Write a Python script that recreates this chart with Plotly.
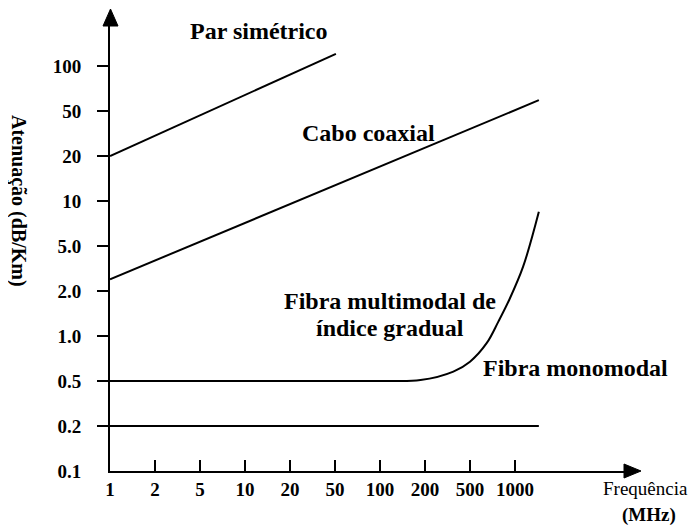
import plotly.graph_objects as go

# Schematic scale: positions are evenly spaced steps on each axis
freq_labels = ["1", "2", "5", "10", "20", "50", "100", "200", "500", "1000"]
atten_labels = ["0.1", "0.2", "0.5", "1.0", "2.0", "5.0", "10", "20", "50", "100"]

# Series in axis-step units (x: frequency step, y: attenuation step)
par_x = [0.0, 5.02]
par_y = [7.0, 9.27]

coax_x = [0.0, 9.53]
coax_y = [4.26, 8.24]

multi_x = [0.0, 6.0, 6.9, 7.63, 8.0, 8.37, 8.63, 8.87, 9.18, 9.53]
multi_y = [2.0, 2.0, 2.02, 2.21, 2.43, 2.84, 3.32, 3.80, 4.54, 5.76]

mono_x = [0.0, 9.53]
mono_y = [1.0, 1.0]

FONT = "Liberation Serif, Times New Roman, serif"
PAGE_OFF = 8                     # browser body margin
W, H = 696 - PAGE_OFF, 527 - PAGE_OFF
ORIG_X, ORIG_Y = 110, 471        # axis origin in page pixels
STEP = 45.0
PLOT_RIGHT, PLOT_TOP = 625, 25   # page pixels
L = ORIG_X - PAGE_OFF
T = PLOT_TOP - PAGE_OFF
R = W - (PLOT_RIGHT - PAGE_OFF)
B = H - (ORIG_Y - PAGE_OFF)
PW = PLOT_RIGHT - ORIG_X
PH = ORIG_Y - PLOT_TOP
xr = PW / STEP
yr = PH / STEP

def qx(px):
    return (px - ORIG_X) / PW

def qy(py):
    return (ORIG_Y - py) / PH

fig = go.Figure()
for xs, ys, shape in [(par_x, par_y, "linear"), (coax_x, coax_y, "linear"),
                      (multi_x, multi_y, "spline"), (mono_x, mono_y, "linear")]:
    fig.add_trace(go.Scatter(x=xs, y=ys, mode="lines",
                             line=dict(color="black", width=2, shape=shape, smoothing=1.0),
                             hoverinfo="skip", showlegend=False))

tickfont = dict(family=FONT, size=19, color="black", weight="bold")
fig.update_xaxes(range=[0, xr], showgrid=False, zeroline=False, showline=True,
                 linecolor="black", linewidth=2, automargin=False,
                 tickmode="array", tickvals=list(range(10)), ticktext=freq_labels,
                 ticks="", tickfont=tickfont, ticklabelstandoff=0,
                 minor=dict(tickmode="array", tickvals=list(range(1, 10)), ticks="inside",
                            ticklen=11, tickwidth=2, tickcolor="black", showgrid=False))
fig.update_yaxes(range=[0, yr], showgrid=False, zeroline=False, showline=True,
                 linecolor="black", linewidth=2, automargin=False,
                 tickmode="array", tickvals=list(range(10)), ticktext=atten_labels,
                 ticks="", tickfont=tickfont, ticklabelstandoff=23,
                 minor=dict(tickmode="array", tickvals=list(range(1, 10)), ticks="outside",
                            ticklen=11, tickwidth=2, tickcolor="black", showgrid=False))

# Arrowheads
fig.add_shape(type="path", xref="paper", yref="paper",
              path=f"M {qx(624)} {qy(464)} L {qx(641)} {qy(471)} L {qx(624)} {qy(478)} Z",
              fillcolor="black", line=dict(color="black", width=1))
fig.add_shape(type="path", xref="paper", yref="paper",
              path=f"M {qx(103)} {qy(26)} L {qx(110.5)} {qy(9)} L {qx(118)} {qy(26)} Z",
              fillcolor="black", line=dict(color="black", width=1))

bold24 = dict(family=FONT, size=24, color="black", weight="bold")
annots = [
    ("Par simétrico", 259, 31, bold24, 0),
    ("Cabo coaxial", 368, 133, bold24, 0),
    ("Fibra multimodal de", 390, 301, bold24, 0),
    ("índice gradual", 390, 328, bold24, 0),
    ("Fibra monomodal", 575, 368, bold24, 0),
    ("Frequência", 645, 489, dict(family=FONT, size=19, color="black"), 0),
    ("(MHz)", 649, 515, dict(family=FONT, size=19, color="black", weight="bold"), 0),
    ("Atenuação (dB/Km)", 19, 201, dict(family=FONT, size=20, color="black", weight="bold"), 90),
]
for text, px, py, f, ang in annots:
    fig.add_annotation(text=text, x=qx(px), y=qy(py), xref="paper", yref="paper",
                       showarrow=False, font=f, xanchor="center", yanchor="middle",
                       textangle=ang)

fig.update_layout(width=W, height=H, margin=dict(l=L, r=R, t=T, b=B, autoexpand=False),
                  paper_bgcolor="white", plot_bgcolor="white")
fig.write_html("out.html")
